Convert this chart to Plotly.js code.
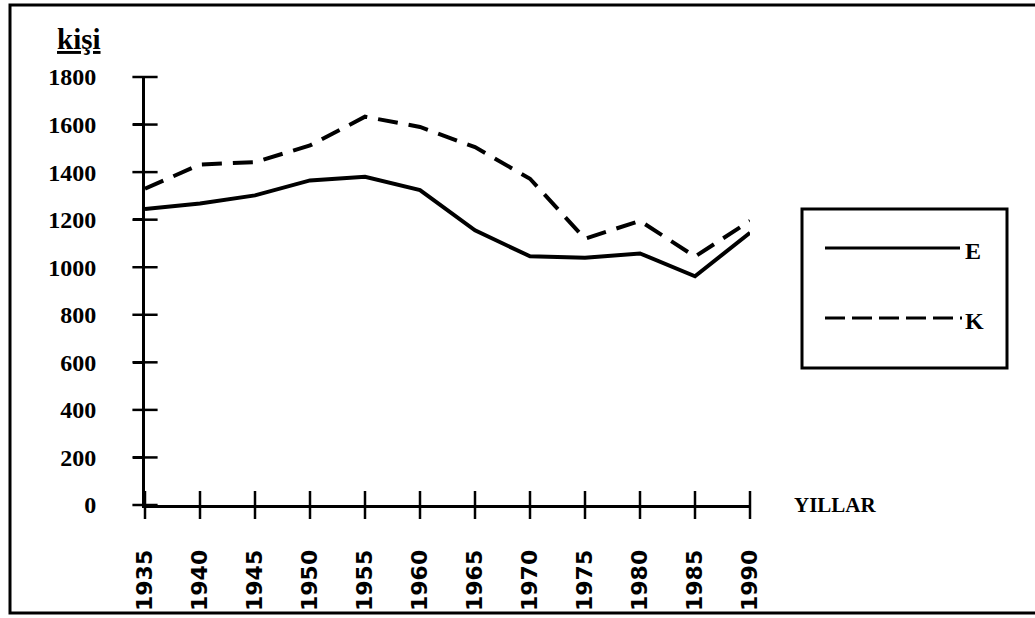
<!DOCTYPE html>
<html>
<head>
<meta charset="utf-8">
<script src="https://cdn.plot.ly/plotly-3.0.1.min.js"></script>
<style>
html,body{margin:0;padding:0;background:#fff;}
#chart{width:1035px;height:618px;}
</style>
</head>
<body>
<div id="chart"></div>
<script>
// ---- data ----
var years = [1935, 1940, 1945, 1950, 1955, 1960, 1965, 1970, 1975, 1980, 1985, 1990];
var yearLabels = ["1935","1940","1945","1950","1955","1960","1965","1970","1975","1980","1985","1990"];
var seriesNames = ["E", "K"];
var valuesE = [1245, 1268, 1302, 1365, 1380, 1324, 1155, 1046, 1040, 1058, 962, 1145];
var valuesK = [1330, 1432, 1442, 1512, 1633, 1590, 1505, 1372, 1120, 1195, 1045, 1195];
var yTicks = [0, 200, 400, 600, 800, 1000, 1200, 1400, 1600, 1800];
var yTitle = "kişi";
var xTitle = "YILLAR";

// ---- layout geometry (pixels) ----
var W = 1035, H = 618;
var L = 145, R = 750, T = 77, B = 505;
function px(x){ return (x - L) / (R - L); }
function py(y){ return (B - y) / (B - T); }

var serif = "Liberation Serif";
var sans = "DejaVu Sans";

var traces = [
  {x: years, y: valuesE, name: seriesNames[0], mode: "lines",
   line: {color: "#000", width: 4}, cliponaxis: false, showlegend: false},
  {x: years, y: valuesK, name: seriesNames[1], mode: "lines",
   line: {color: "#000", width: 4, dash: "20px,11px"}, cliponaxis: false, showlegend: false},
  // cross-shaped axis ticks (as in the original drawing)
  {x: yTicks.map(function(){ return years[0]; }), y: yTicks, mode: "markers", showlegend: false,
   hoverinfo: "skip", cliponaxis: false,
   marker: {symbol: "line-ew", size: 18, color: "#000", line: {color: "#000", width: 2.5}}},
  {x: years, y: years.map(function(){ return yTicks[0]; }), mode: "markers", showlegend: false,
   hoverinfo: "skip", cliponaxis: false,
   marker: {symbol: "line-ns", size: 20, color: "#000", line: {color: "#000", width: 2.5}}}
];

var shapes = [];
// outer frame: left, top and bottom edges (right edge is off the page in the scan)
shapes.push({type: "path", xref: "paper", yref: "paper", layer: "above",
  path: "M" + px(1100) + "," + py(5) + " L" + px(10) + "," + py(5) + " L" + px(10) + "," + py(613) + " L" + px(1100) + "," + py(613),
  line: {color: "#000", width: 3}});
// legend box
shapes.push({type: "rect", xref: "paper", yref: "paper", x0: px(802), x1: px(1007), y0: py(368), y1: py(209),
   line: {color: "#000", width: 3}, fillcolor: "rgba(0,0,0,0)"});
shapes.push({type: "line", xref: "paper", yref: "paper", x0: px(825), x1: px(960), y0: py(248), y1: py(248),
   line: {color: "#000", width: 3}});
shapes.push({type: "line", xref: "paper", yref: "paper", x0: px(825), x1: px(962), y0: py(318), y1: py(318),
   line: {color: "#000", width: 3, dash: "20px,7px"}});

var annotations = [
  {xref: "paper", yref: "paper", x: px(79), y: py(39), text: "<b><span style='text-decoration:underline'>" + yTitle + "</span></b>",
   showarrow: false, xanchor: "center", yanchor: "middle", font: {family: serif, size: 29, color: "#000"}},
  {xref: "paper", yref: "paper", x: px(792), y: py(505), text: "<b>" + xTitle + "</b>",
   showarrow: false, xanchor: "left", yanchor: "middle", font: {family: serif, size: 21, color: "#000"}},
  {xref: "paper", yref: "paper", x: px(963), y: py(251), text: "<b>" + seriesNames[0] + "</b>",
   showarrow: false, xanchor: "left", yanchor: "middle", font: {family: serif, size: 24, color: "#000"}},
  {xref: "paper", yref: "paper", x: px(963), y: py(321), text: "<b>" + seriesNames[1] + "</b>",
   showarrow: false, xanchor: "left", yanchor: "middle", font: {family: serif, size: 24, color: "#000"}}
];

var layout = {
  width: W, height: H,
  margin: {l: L, r: W - R, t: T, b: H - B, pad: 0},
  paper_bgcolor: "#fff", plot_bgcolor: "rgba(0,0,0,0)",
  showlegend: false,
  xaxis: {
    range: [1935, 1990], tickvals: years, ticktext: yearLabels, tickangle: -90,
    showline: true, linecolor: "#000", linewidth: 3, showgrid: false, zeroline: false,
    ticks: "outside", ticklen: 9, tickwidth: 2.5, tickcolor: "#000",
    ticklabelstandoff: 24,
    tickfont: {family: sans, size: 22, color: "#000", weight: "bold"}
  },
  yaxis: {
    range: [0, 1800], tickvals: yTicks,
    showline: true, linecolor: "#000", linewidth: 3, showgrid: false, zeroline: false,
    ticks: "outside", ticklen: 9, tickwidth: 2.5, tickcolor: "#000",
    ticklabelstandoff: 32,
    tickfont: {family: serif, size: 24, color: "#000", weight: "bold"}
  },
  shapes: shapes,
  annotations: annotations
};

Plotly.newPlot("chart", traces, layout, {staticPlot: true, displayModeBar: false});
</script>
</body>
</html>
